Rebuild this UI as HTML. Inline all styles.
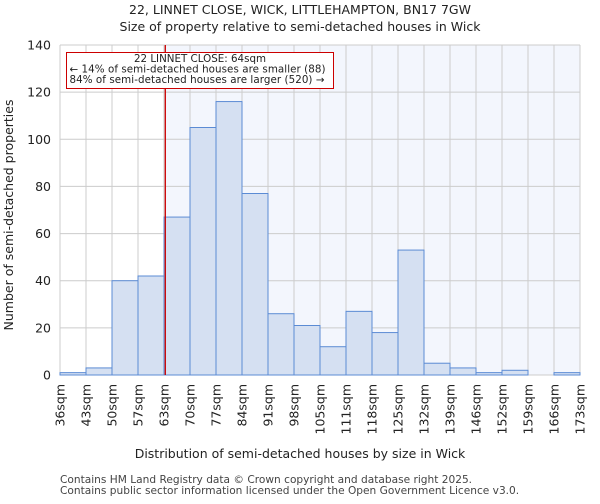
<!DOCTYPE html>
<html><head><meta charset="utf-8"><style>
body{margin:0;background:#fff;font-family:"DejaVu Sans","Liberation Sans",sans-serif}
</style></head><body>
<svg id="c" width="600" height="500" xmlns="http://www.w3.org/2000/svg" font-family="DejaVu Sans, Liberation Sans, sans-serif">
<text x="300" y="14" font-size="12.5" text-anchor="middle" fill="#222">22, LINNET CLOSE, WICK, LITTLEHAMPTON, BN17 7GW</text>
<text x="300" y="31" font-size="12.5" text-anchor="middle" fill="#222">Size of property relative to semi-detached houses in Wick</text>
<g id="grid"></g><g id="bars"></g><g id="axes"></g>
<text x="300" y="458" font-size="12.5" text-anchor="middle" fill="#222">Distribution of semi-detached houses by size in Wick</text>
<text transform="translate(13,215) rotate(-90)" font-size="12.5" text-anchor="middle" fill="#222">Number of semi-detached properties</text>
<text x="60" y="483" font-size="10.6" fill="#444">Contains HM Land Registry data © Crown copyright and database right 2025.</text>
<text x="60" y="494" font-size="10.6" fill="#444">Contains public sector information licensed under the Open Government Licence v3.0.</text>
</svg>
<script>
const categories=["36sqm","43sqm","50sqm","57sqm","63sqm","70sqm","77sqm","84sqm","91sqm","98sqm","105sqm","111sqm","118sqm","125sqm","132sqm","139sqm","146sqm","152sqm","159sqm","166sqm","173sqm"];
const counts=[1,3,40,42,67,105,116,77,26,21,12,27,18,53,5,3,1,2,0,1];
const yTicks=[0,20,40,60,80,100,120,140];
const markerBin=4.05;
const NS="http://www.w3.org/2000/svg";
const X0=60,X1=580,Y0=375,Y1=45,YMAX=140;
const bw=(X1-X0)/counts.length;
const xs=i=>X0+i*bw;
const ys=v=>Y0-(v/YMAX)*(Y0-Y1);
function mk(t,a,p){const e=document.createElementNS(NS,t);for(const k in a)e.setAttribute(k,a[k]);p.appendChild(e);return e;}
const grid=document.getElementById('grid'),bars=document.getElementById('bars'),axes=document.getElementById('axes');
const mx=xs(markerBin);
const sh=mk('rect',{x:mx,y:Y1,width:X1-mx,height:Y0-Y1,fill:'#f3f6fd'},grid);


yTicks.forEach(v=>{
  const l=mk('line',{x1:X0,x2:X1,y1:ys(v),y2:ys(v),stroke:'#cccccc','stroke-width':1},grid);
  
  
  const t=mk('text',{x:X0-9,y:ys(v)+4.5,'font-size':12.5,'text-anchor':'end',fill:'#222'},axes);
  t.textContent=v;
  
  
});
categories.forEach((c,i)=>{
  const x=xs(i);
  const l=mk('line',{x1:x,x2:x,y1:Y1,y2:Y0,stroke:'#cccccc','stroke-width':1},grid);
  
  
  const t=mk('text',{transform:`translate(${x+4.5},${Y0+9}) rotate(-90)`,'font-size':12.5,'text-anchor':'end',fill:'#222'},axes);
  t.textContent=c;
  
  
});
counts.forEach((v,i)=>{
  if(v<=0)return;
  const r=mk('rect',{x:xs(i),y:ys(v),width:bw,height:Y0-ys(v),fill:'#d5e0f2',stroke:'#5b8bd4','stroke-width':1},bars);
  
  
});
const ml=mk('line',{x1:mx,x2:mx,y1:Y1,y2:Y0,stroke:'#cc0000','stroke-width':1.3},axes);


const box=mk('rect',{x:66.5,y:52.5,width:267,height:36,fill:'#fff',stroke:'#cc0000','stroke-width':1},axes);


["22 LINNET CLOSE: 64sqm","← 14% of semi-detached houses are smaller (88)","84% of semi-detached houses are larger (520) →"].forEach((s,i)=>{
  const t=mk('text',{x:i==0?200:69.5,y:62+i*10.5,'font-size':10.3,'text-anchor':i==0?'middle':'start',fill:'#222',textLength:i==0?'':(i==1?256:255)},axes);
  if(i==0)t.removeAttribute('textLength');
  t.textContent=s;
  
  
});
</script>
</body></html>
